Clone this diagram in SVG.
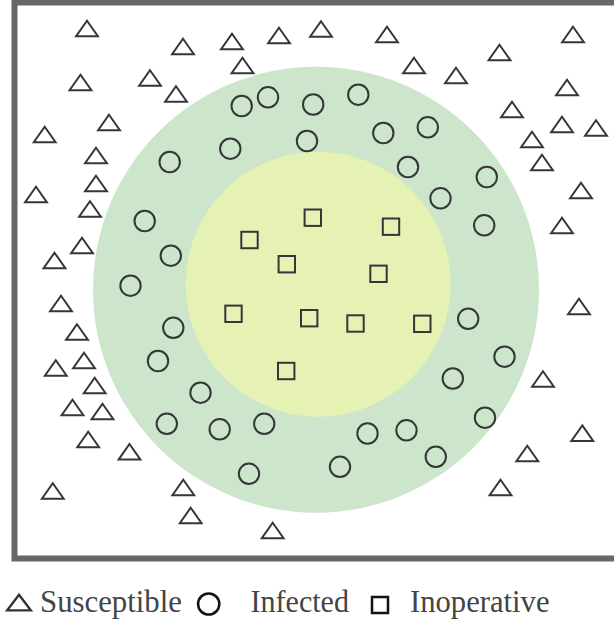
<svg xmlns="http://www.w3.org/2000/svg" xmlns:xlink="http://www.w3.org/1999/xlink" width="614" height="622" viewBox="0 0 614 622">
<style>
.s{fill:none;stroke:#363636;stroke-width:2;stroke-linejoin:miter}
.lg{font-family:"Liberation Serif","Times New Roman",serif;font-size:31px;fill:#444}
</style>
<defs>
<path id="tri" class="s" d="M0,-7.3 L10.9,8.3 L-10.9,8.3 Z"/>
<circle id="cir" class="s" r="10.2"/>
<rect id="sq" class="s" x="-8.2" y="-8.2" width="16.4" height="16.4"/>
</defs>
<rect width="614" height="622" fill="#fff"/>
<g id="frame"><rect x="14.5" y="2.5" width="620" height="556" fill="none" stroke="#676767" stroke-width="6"/></g>
<g id="zones">
<circle id="infected-zone" cx="316" cy="289.7" r="223" fill="#cce5cb"/>
<circle id="inoperative-zone" cx="318.2" cy="284.2" r="132.5" fill="#e5f2b4"/>
</g>
<g id="connectors"/>
<g id="susceptible">
<use href="#tri" x="87" y="28"/><use href="#tri" x="183" y="46"/><use href="#tri" x="232" y="41"/>
<use href="#tri" x="279" y="35"/><use href="#tri" x="321" y="28.5"/><use href="#tri" x="387" y="34"/>
<use href="#tri" x="573" y="34"/><use href="#tri" x="242.5" y="65"/><use href="#tri" x="414" y="65"/>
<use href="#tri" x="499.5" y="52"/><use href="#tri" x="456" y="75"/><use href="#tri" x="150" y="77.5"/>
<use href="#tri" x="80.5" y="82"/><use href="#tri" x="176" y="93.5"/><use href="#tri" x="567" y="87"/>
<use href="#tri" x="109" y="122"/><use href="#tri" x="512" y="109"/><use href="#tri" x="562" y="124"/>
<use href="#tri" x="596" y="127.5"/><use href="#tri" x="44.7" y="134"/><use href="#tri" x="532" y="139"/>
<use href="#tri" x="96" y="155"/><use href="#tri" x="542" y="162"/><use href="#tri" x="96" y="183"/>
<use href="#tri" x="36" y="194"/><use href="#tri" x="581" y="190"/><use href="#tri" x="90" y="208.5"/>
<use href="#tri" x="562" y="225"/><use href="#tri" x="82" y="245"/><use href="#tri" x="54.5" y="260"/>
<use href="#tri" x="61" y="303"/><use href="#tri" x="579" y="306"/><use href="#tri" x="77" y="331.5"/>
<use href="#tri" x="84" y="360"/><use href="#tri" x="55.8" y="367.5"/><use href="#tri" x="94.7" y="385"/>
<use href="#tri" x="72.5" y="407"/><use href="#tri" x="102.5" y="411"/><use href="#tri" x="88.2" y="439"/>
<use href="#tri" x="129.5" y="451.3"/><use href="#tri" x="543" y="378.5"/><use href="#tri" x="582.3" y="432.7"/>
<use href="#tri" x="527.3" y="453"/><use href="#tri" x="500.5" y="487"/><use href="#tri" x="52.8" y="490.5"/>
<use href="#tri" x="183.3" y="487"/><use href="#tri" x="190.7" y="515"/><use href="#tri" x="272.7" y="530"/>
</g>
<g id="infected">
<use href="#cir" x="241.7" y="106"/><use href="#cir" x="268" y="97.3"/><use href="#cir" x="313.2" y="104.5"/>
<use href="#cir" x="358.3" y="94.7"/><use href="#cir" x="383.3" y="133"/><use href="#cir" x="427.8" y="127.3"/>
<use href="#cir" x="169.7" y="162"/><use href="#cir" x="230.3" y="148.7"/><use href="#cir" x="307" y="141"/>
<use href="#cir" x="408" y="167"/><use href="#cir" x="440.5" y="198.3"/><use href="#cir" x="486.8" y="177"/>
<use href="#cir" x="144.7" y="221"/><use href="#cir" x="484.2" y="225.3"/><use href="#cir" x="170.8" y="255.7"/>
<use href="#cir" x="130.5" y="285.7"/><use href="#cir" x="173.3" y="327.8"/><use href="#cir" x="468.2" y="318.8"/>
<use href="#cir" x="158" y="361"/><use href="#cir" x="504.5" y="356.7"/><use href="#cir" x="452.8" y="378.5"/>
<use href="#cir" x="200.5" y="392.7"/><use href="#cir" x="166.8" y="423.8"/><use href="#cir" x="219.7" y="429.3"/>
<use href="#cir" x="264.2" y="423.8"/><use href="#cir" x="367.5" y="433.5"/><use href="#cir" x="406.5" y="430.3"/>
<use href="#cir" x="485" y="417.7"/><use href="#cir" x="249" y="473.8"/><use href="#cir" x="340" y="466.8"/>
<use href="#cir" x="435.8" y="456.8"/>
</g>
<g id="inoperative">
<use href="#sq" x="312.8" y="217.7"/><use href="#sq" x="391" y="226.7"/><use href="#sq" x="249.5" y="240"/>
<use href="#sq" x="286.8" y="264.2"/><use href="#sq" x="378.5" y="273.8"/><use href="#sq" x="233.5" y="313.8"/>
<use href="#sq" x="309.2" y="318.2"/><use href="#sq" x="355.5" y="323.5"/><use href="#sq" x="422.3" y="323.8"/>
<use href="#sq" x="286.2" y="371"/>
</g>
<g id="legend">
<path d="M19,594.8 L30.8,610.4 L7.2,610.4 Z" fill="none" stroke="#333" stroke-width="2.4"/>
<text class="lg" x="40" y="612" textLength="142" lengthAdjust="spacingAndGlyphs">Susceptible</text>
<circle cx="208.7" cy="604" r="10.6" fill="none" stroke="#111" stroke-width="2.5"/>
<text class="lg" x="250.5" y="612" textLength="98.5" lengthAdjust="spacingAndGlyphs">Infected</text>
<rect x="372" y="597" width="16" height="16" fill="none" stroke="#111" stroke-width="2.5"/>
<text class="lg" x="410" y="612" textLength="139.5" lengthAdjust="spacingAndGlyphs">Inoperative</text>
</g>
</svg>
